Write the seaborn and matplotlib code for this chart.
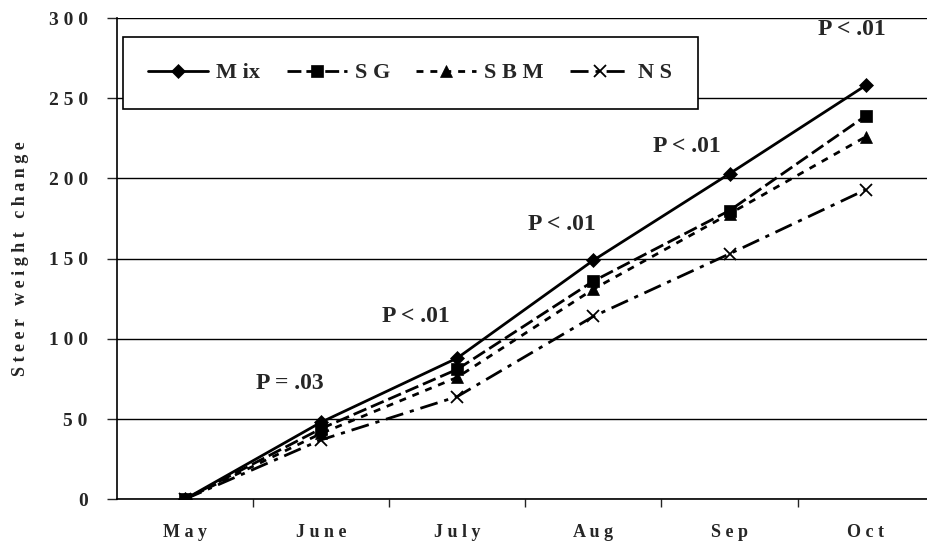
import numpy as np
import pandas as pd
import matplotlib
matplotlib.use('Agg')
import matplotlib.pyplot as plt
import seaborn as sns

months = ['May', 'June', 'July', 'Aug', 'Sep', 'Oct']
mix = [0, 48, 88, 149, 203, 258]
sg = [0, 44, 81, 136, 180, 239]
sbm = [0, 41, 76, 131, 178, 226]
ns = [0, 37, 64, 114, 153, 193]

p_labels = ['P = .03', 'P < .01', 'P < .01', 'P < .01', 'P < .01']
p_month = ['June', 'July', 'Aug', 'Sep', 'Oct']
p_height = [72, 114, 171, 220, 293]
p_shift = [-0.23, -0.3, -0.23, -0.31, -0.1]

series = {'Mix': mix, 'SG': sg, 'SBM': sbm, 'NS': ns}
styles = {
    'Mix': dict(marker='D', dashes=None, ms=7),
    'SG': dict(marker='s', dashes=(5, 1.8), ms=8),
    'SBM': dict(marker='^', dashes=(2.5, 2.5), ms=8),
    'NS': dict(marker='x', dashes=(6.5, 2.5, 1.5, 2.5), ms=9),
}
legend_names = {'Mix': 'M ix', 'SG': 'S G', 'SBM': 'S B M', 'NS': 'N S'}

sns.set_style('white')
plt.rcParams['font.family'] = ['Liberation Serif', 'DejaVu Serif']
plt.rcParams['font.weight'] = 'bold'

fig = plt.figure(figsize=(9.27, 5.48), dpi=100)
ax = fig.add_axes([0.126, 0.089, 0.874, 0.878])

pos = np.arange(len(months))
for name, vals in series.items():
    st = styles[name]
    sns.lineplot(x=pos, y=vals, ax=ax, color='black', linewidth=2.0,
                 marker=st['marker'], markersize=st['ms'],
                 markeredgecolor='black', markerfacecolor='black',
                 markeredgewidth=1.3 if name == 'NS' else 0.5,
                 label=legend_names[name])
    if st['dashes'] is not None:
        ax.lines[-1].set_dashes(st['dashes'])

for lab, m, h, dx in zip(p_labels, p_month, p_height, p_shift):
    ax.text(months.index(m) + dx, h, lab, ha='center', va='center',
            fontsize=17, fontweight='bold')

ax.set_xlim(-0.5, 5.45)
ax.set_ylim(0, 300)
ax.set_yticks(np.arange(0, 301, 50))
ax.set_yticklabels([' '.join(str(v)) for v in range(0, 301, 50)],
                   fontsize=14, fontweight='bold')
ax.yaxis.grid(True, color='black', linewidth=1.0)
ax.set_axisbelow(True)

ax.set_xticks(pos)
ax.set_xticklabels([' '.join(m) for m in months], fontsize=13, fontweight='bold')
ax.set_xticks(np.arange(0.5, 5.0, 1.0), minor=True)
ax.tick_params(axis='x', which='major', length=0, pad=18)
ax.tick_params(axis='x', which='minor', length=6, width=1, direction='out', bottom=True)
ax.tick_params(axis='y', length=7, width=1, direction='out', left=True, pad=14)

for s in ['top', 'right']:
    ax.spines[s].set_visible(False)
for s in ['left', 'bottom']:
    ax.spines[s].set_color('black')
    ax.spines[s].set_linewidth(1.2)

ax.set_ylabel('S t e e r   w e i g h t   c h a n g e', fontsize=13,
              fontweight='bold', labelpad=14)
ax.set_xlabel('')

leg = ax.legend(loc='upper left', bbox_to_anchor=(0.0074, 0.96), ncol=4,
                frameon=True, fancybox=False, handlelength=2.7,
                columnspacing=1.2, borderpad=1.15, borderaxespad=0,
                handletextpad=0.35, prop={'size': 16, 'weight': 'bold'})
leg.get_frame().set_edgecolor('black')
leg.get_frame().set_linewidth(1.2)
leg.get_frame().set_alpha(1)

fig.savefig('out.png', dpi=100)
